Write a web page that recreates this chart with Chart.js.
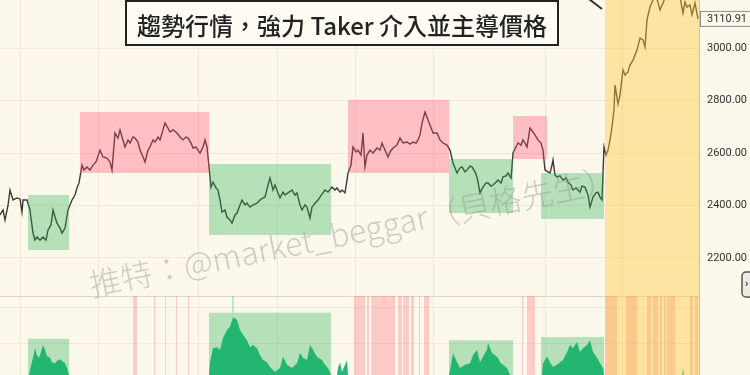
<!DOCTYPE html>
<html lang="zh-TW">
<head>
<meta charset="utf-8">
<script src="https://cdn.jsdelivr.net/npm/chart.js@4/dist/chart.umd.min.js"></script>
<style>
  html, body { margin: 0; padding: 0; background: #fdf8ec; }
  #wrap { width: 750px; height: 375px; }
</style>
</head>
<body>
<div id="wrap"><canvas id="chart" width="750" height="375" lang="zh-TW"></canvas></div>
<script>
// price path (x = bar position, y = price)
const barIndex = [0, 3, 5, 8, 10, 13, 17, 20, 22, 23, 27, 30, 33, 35, 37, 40, 43, 46, 48, 51, 53, 55, 57, 60, 62, 65, 68, 72, 75, 77, 79, 80, 82, 84, 87, 90, 93, 96, 100, 103, 107, 110, 112, 115, 118, 120, 122, 125, 128, 130, 133, 135, 138, 140, 143, 145, 148, 150, 153, 155, 158, 160, 163, 165, 168, 170, 173, 177, 180, 183, 186, 188, 191, 193, 196, 200, 203, 205, 207, 209, 211, 213, 216, 218, 220, 222, 225, 227, 230, 232, 235, 237, 240, 242, 245, 247, 250, 253, 257, 260, 263, 265, 268, 270, 273, 275, 278, 280, 283, 285, 288, 292, 295, 297, 300, 302, 305, 307, 310, 312, 315, 318, 320, 323, 325, 328, 332, 335, 337, 340, 342, 345, 347, 348, 351, 353, 356, 358, 361, 363, 365, 367, 370, 373, 377, 380, 382, 385, 388, 390, 393, 397, 400, 403, 407, 410, 413, 416, 418, 420, 422, 425, 428, 430, 433, 437, 440, 443, 447, 450, 453, 457, 460, 462, 465, 467, 470, 472, 475, 477, 480, 483, 486, 488, 491, 493, 496, 498, 501, 503, 506, 508, 511, 512, 513, 516, 518, 521, 523, 525, 527, 530, 533, 535, 538, 541, 543, 545, 548, 550, 552, 553, 555, 557, 560, 563, 566, 568, 571, 573, 576, 580, 582, 585, 588, 590, 593, 596, 598, 600, 602, 604, 606, 608, 610, 612, 614, 615, 618, 620, 623, 625, 628, 630, 633, 635, 637, 640, 643, 645, 647, 650, 653, 655, 658, 660, 663, 666, 670, 675, 680, 683, 685, 687, 690, 692, 695, 698]
const close = [2364, 2383, 2345, 2400, 2459, 2421, 2429, 2425, 2375, 2421, 2421, 2383, 2295, 2268, 2280, 2268, 2280, 2268, 2307, 2326, 2383, 2356, 2333, 2314, 2295, 2314, 2383, 2421, 2440, 2467, 2486, 2509, 2554, 2535, 2547, 2535, 2554, 2566, 2611, 2585, 2581, 2566, 2535, 2676, 2657, 2688, 2661, 2623, 2650, 2638, 2661, 2657, 2642, 2611, 2585, 2566, 2611, 2623, 2650, 2642, 2661, 2650, 2688, 2714, 2695, 2680, 2688, 2676, 2661, 2650, 2661, 2657, 2638, 2619, 2623, 2600, 2623, 2650, 2623, 2547, 2470, 2489, 2467, 2459, 2421, 2375, 2383, 2356, 2345, 2333, 2364, 2371, 2402, 2421, 2402, 2409, 2394, 2402, 2409, 2421, 2429, 2432, 2478, 2505, 2459, 2478, 2448, 2429, 2451, 2440, 2448, 2459, 2440, 2448, 2402, 2383, 2402, 2394, 2352, 2394, 2409, 2421, 2432, 2448, 2459, 2451, 2470, 2459, 2467, 2451, 2459, 2448, 2497, 2524, 2554, 2623, 2604, 2611, 2592, 2676, 2547, 2592, 2611, 2600, 2619, 2611, 2638, 2611, 2585, 2604, 2619, 2630, 2657, 2638, 2642, 2634, 2642, 2638, 2650, 2669, 2714, 2756, 2726, 2707, 2676, 2676, 2650, 2638, 2630, 2611, 2562, 2524, 2543, 2547, 2528, 2535, 2550, 2547, 2528, 2509, 2448, 2470, 2486, 2486, 2474, 2478, 2489, 2497, 2486, 2509, 2513, 2524, 2505, 2547, 2600, 2623, 2638, 2630, 2650, 2638, 2623, 2695, 2680, 2669, 2650, 2638, 2611, 2535, 2528, 2524, 2554, 2573, 2516, 2509, 2513, 2497, 2505, 2489, 2478, 2459, 2467, 2451, 2474, 2470, 2440, 2394, 2432, 2448, 2451, 2432, 2421, 2623, 2592, 2611, 2650, 2699, 2764, 2859, 2787, 2821, 2916, 2897, 2909, 2935, 2954, 2973, 2992, 3038, 3031, 3004, 3107, 3156, 3183, 3202, 3175, 3145, 3171, 3202, 3213, 3202, 3194, 3133, 3175, 3156, 3164, 3126, 3171, 3110.91]
const lastClose = 3110.91

// taker volume (lower pane)
const volX = [29, 30, 33, 35, 37, 39, 41, 43, 45, 47, 50, 52, 55, 57, 59, 62, 65, 67, 69,
  209, 210, 213, 217, 220, 223, 227, 230, 233, 237, 240, 243, 247, 250, 253, 257, 260, 263, 267, 270, 275, 280, 283, 287, 292, 297, 300, 303, 307, 310, 313, 317, 322, 325, 328, 331,
  337, 338, 340, 342, 345, 347, 348,
  449, 450, 453, 457, 460, 465, 470, 473, 477, 480, 483, 487, 488, 492, 495, 498, 500, 503, 507, 510,
  542, 543, 547, 550, 553, 557, 560, 563, 567, 570, 573, 577, 580, 583, 587, 590, 593, 597, 600, 603, 604,
  682, 683, 684]
const volume = [0, 6, 22, 34, 25, 22, 29, 38, 32, 24, 22, 16, 15, 18, 20, 18, 15, 9, 0,
  0, 16, 34, 35, 32, 47, 57, 61, 73, 70, 57, 51, 44, 35, 38, 34, 25, 19, 16, 10, 4, 9, 23, 13, 9, 15, 28, 22, 19, 38, 32, 23, 19, 13, 9, 0,
  0, 9, 16, 4, 13, 19, 0,
  0, 6, 28, 16, 9, 13, 15, 25, 32, 16, 23, 32, 41, 28, 25, 22, 16, 13, 9, 0,
  0, 15, 23, 16, 10, 13, 16, 19, 29, 38, 34, 42, 29, 34, 38, 44, 29, 22, 15, 9, 0,
  0, 9, 0]

// range boxes
const boxStart = [28, 80, 209, 348, 449, 513, 541]
const boxEnd = [69, 209, 331, 449, 513, 547, 604]
const boxHigh = [2440, 2756, 2558, 2802, 2577, 2741, 2524]
const boxLow = [2230, 2524, 2288, 2524, 2371, 2577, 2349]
const boxSide = ['buy', 'sell', 'buy', 'sell', 'buy', 'sell', 'buy']
const volBoxHigh = [46, 0, 79, 0, 44, 0, 48]

// signal stripes in the lower pane
const sellStripes = [[133, 137], [154, 155], [165, 166], [176, 177], [188, 189], [354, 365], [367, 369], [371, 395], [398, 402], [403, 409], [411, 414], [419, 420], [424, 429], [522, 523], [527, 535]]
const buyStripes = [[232, 234]]
const trendStripes = [[605, 617], [626, 637], [647, 651], [653, 658], [660, 662], [664, 666], [667, 675], [690, 693], [695, 698]]
const trendRange = [605, 699]

const priceTicks = [2200, 2400, 2600, 2800, 3000]
const volTicks = [40, 86, 100]
const dateGrid = [20, 98, 198, 277, 355, 433, 545, 622]

const titleText = '趨勢行情，強力 Taker 介入並主導價格'
const watermark = '推特：@market_beggar（貝格先生）'

const GRID = '#efe8d8'
const BOX_COLOR = { buy: 'rgba(40, 175, 80, 0.33)', sell: 'rgba(255, 70, 110, 0.32)' }

function band (x0, x1, top, bottom, color, axis, order) {
  return {
    type: 'line',
    yAxisID: axis,
    order,
    data: [{ x: x0, y: top }, { x: x1, y: top }],
    fill: { value: bottom },
    backgroundColor: color,
    borderColor: 'transparent',
    borderWidth: 0,
    pointRadius: 0
  }
}

const datasets = []
trendStripes.forEach(([a, b]) => datasets.push(band(a, b, 100, 0, 'rgba(245, 140, 80, 0.3)', 'yv', 0)))
datasets.push(band(trendRange[0], trendRange[1], 3183, 2055, 'rgba(255, 200, 60, 0.42)', 'y', 1))
datasets.push(band(trendRange[0], trendRange[1], 100, 0, 'rgba(255, 200, 60, 0.42)', 'yv', 1))
boxStart.forEach((s, i) => {
  datasets.push(band(s, boxEnd[i], boxHigh[i], boxLow[i], BOX_COLOR[boxSide[i]], 'y', 2))
  if (volBoxHigh[i] > 0) datasets.push(band(s, boxEnd[i], volBoxHigh[i], 0, BOX_COLOR[boxSide[i]], 'yv', 2))
})
sellStripes.forEach(([a, b]) => datasets.push(band(a, b, 100, 0, 'rgba(255, 120, 130, 0.35)', 'yv', 3)))
buyStripes.forEach(([a, b]) => datasets.push(band(a, b, 100, 79, 'rgba(60, 200, 150, 0.35)', 'yv', 3)))
datasets.push({
  type: 'line',
  yAxisID: 'y',
  order: 4,
  data: barIndex.map((x, i) => ({ x, y: close[i] })),
  borderColor: '#3a3a3a',
  borderWidth: 1.4,
  pointRadius: 0,
  tension: 0,
  fill: false
})
datasets.push({
  type: 'line',
  yAxisID: 'yv',
  order: 5,
  data: volX.map((x, i) => ({ x, y: volume[i] })),
  borderColor: 'transparent',
  borderWidth: 0,
  backgroundColor: '#22b981',
  pointRadius: 0,
  tension: 0,
  fill: 'origin'
})

const overlay = {
  id: 'overlay',
  beforeDraw (chart) {
    const { ctx } = chart
    ctx.save()
    ctx.fillStyle = '#fdf8ec'
    ctx.fillRect(0, 0, chart.width, chart.height)
    ctx.restore()
  },
  afterDraw (chart) {
    const { ctx } = chart
    const y = chart.scales.y
    const right = chart.chartArea.right

    ctx.save()
    // 3200 label, cut by the top edge
    ctx.fillStyle = '#333'
    ctx.font = '11px Roboto'
    ctx.textBaseline = 'middle'
    ctx.fillText((3200).toFixed(2), right + 8, y.getPixelForValue(3200))

    // last price tag
    const py = y.getPixelForValue(lastClose)
    ctx.fillStyle = '#fdf8ec'
    ctx.strokeStyle = '#8c8c8c'
    ctx.lineWidth = 1
    ctx.fillRect(right + 1, py - 8, 52, 16)
    ctx.strokeRect(right + 1.5, py - 7.5, 52, 15)
    ctx.fillStyle = '#333'
    ctx.fillText(lastClose.toFixed(2), right + 8, py + 0.5)

    // scroll button
    ctx.fillStyle = '#eeeae0'
    ctx.strokeStyle = '#555'
    ctx.lineWidth = 1.5
    ctx.beginPath()
    ctx.roundRect(742, 272, 16, 25, 4)
    ctx.fill()
    ctx.stroke()
    ctx.fillStyle = '#333'
    ctx.font = 'bold 11px Roboto'
    ctx.fillText('›', 745, 284)

    // title box
    ctx.fillStyle = '#fffcf3'
    ctx.fillRect(125, 0, 434, 46)
    ctx.strokeStyle = '#222'
    ctx.lineWidth = 2
    ctx.strokeRect(126, 1, 432, 44)
    ctx.fillStyle = '#222'
    ctx.font = '500 24px "Noto Sans CJK TC"'
    ctx.textAlign = 'center'
    ctx.fillText(titleText, 342, 26)

    // arrow stub
    ctx.strokeStyle = '#333'
    ctx.lineWidth = 2
    ctx.beginPath()
    ctx.moveTo(589, -1)
    ctx.lineTo(602, 9)
    ctx.stroke()

    // watermark
    ctx.translate(92, 297)
    ctx.rotate(-11.5 * Math.PI / 180)
    ctx.textAlign = 'left'
    ctx.textBaseline = 'alphabetic'
    ctx.font = '300 32px "Noto Sans CJK TC"'
    ctx.fillStyle = 'rgba(140, 140, 140, 0.42)'
    ctx.fillText(watermark, 0, 0)
    ctx.restore()
  }
}

const noPad = (s) => { s.paddingTop = 0; s.paddingBottom = 0; s.paddingLeft = 0; s.paddingRight = 0 }

// eslint-disable-next-line no-unused-vars, no-undef
const chart = new Chart(document.querySelector('#chart'), {
  type: 'line',
  data: { datasets },
  plugins: [overlay],
  options: {
    responsive: false,
    animation: false,
    layout: { padding: 0, autoPadding: false },
    plugins: {
      legend: { display: false },
      tooltip: { enabled: false }
    },
    scales: {
      x: {
        type: 'linear',
        min: 0,
        max: 699,
        offset: false,
        ticks: { display: false },
        border: { display: false },
        grid: { color: GRID, drawTicks: false },
        afterBuildTicks: (s) => { s.ticks = dateGrid.map(v => ({ value: v })) },
        afterFit: (s) => { noPad(s); s.height = 0 }
      },
      y: {
        position: 'right',
        stack: 'pane',
        stackWeight: 3.75,
        min: 2055,
        max: 3183,
        afterBuildTicks: (s) => { s.ticks = priceTicks.map(v => ({ value: v })) },
        afterFit: (s) => { noPad(s); s.width = 51 },
        ticks: {
          padding: 8,
          color: '#333',
          font: { family: 'Roboto', size: 11 },
          callback: (v) => Number(v).toFixed(2)
        },
        grid: { color: GRID, drawTicks: false },
        border: { color: '#c9c2b3' }
      },
      yv: {
        position: 'right',
        stack: 'pane',
        stackWeight: 1,
        min: 0,
        max: 100,
        afterBuildTicks: (s) => { s.ticks = volTicks.map(v => ({ value: v })) },
        afterFit: noPad,
        ticks: { display: false },
        grid: {
          drawTicks: false,
          color: (c) => c.tick && c.tick.value === 100 ? '#ddd5c5' : GRID
        },
        border: { color: '#c9c2b3' }
      }
    }
  }
})
</script>
</body>
</html>
